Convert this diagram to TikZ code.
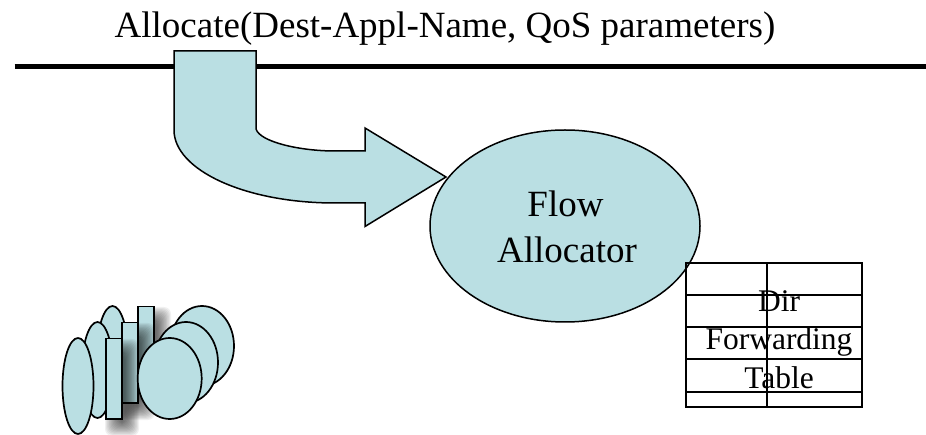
\documentclass[tikz,border=0pt]{standalone}
\usepackage{fontspec}
\setmainfont{Liberation Serif}
\definecolor{pale}{HTML}{BADFE3}
\newcommand{\softshadow}[4]{%
  \foreach \k in {0,...,13}{
    \fill[black,fill opacity=0.06,rounded corners=7pt]
      ({#1-1+\k*1.1},{#2+1+\k*1.1}) rectangle ({#3+17-\k*1.1},{#4+17-\k*1.1});
  }}
\tikzset{
  x=1pt,y=-1pt,
  shape line/.style={draw=black,line width=1.5pt,fill=pale},
  small/.style={draw=black,line width=1.7pt,fill=pale},
  grid line/.style={draw=black,line width=1.3pt},
  label/.style={anchor=base,inner sep=0pt,font=\fontsize{37}{42}\selectfont,text=black},
  cell label/.style={label,font=\fontsize{31.5}{36}\selectfont}
}
\begin{document}
\begin{tikzpicture}
\useasboundingbox (0,0) rectangle (926,435);
\node[label] (title) at (445,37.5) {Allocate(Dest-Appl-Name, QoS parameters)};
\draw[line width=5.3pt,black] (14.5,66.7) -- (926,66.7);
\draw[shape line] (174,51) -- (256,51) -- (256,129)
  .. controls (260,142) and (300,151) .. (335,151) -- (365,151) -- (365,128) -- (446,177) -- (365,226.5) -- (365,203) -- (335,203)
  .. controls (245,203) and (174,170) .. (174,130) -- cycle;
\draw[shape line] (565,226) ellipse [x radius=135,y radius=96];
\draw[grid line] (686,263) rectangle (862,407);
\draw[grid line] (767,263) -- (767,407);
\foreach \yy in {295,327,359,392}{\draw[grid line] (686,\yy) -- (862,\yy);}
\node[label] (flow) at (565.5,217) {Flow};
\node[label] (alloc) at (567,262.5) {Allocator};
\node[cell label] (dir) at (779,312) {Dir};
\node[cell label] (fwd) at (779,350) {Forwarding};
\node[cell label] (tbl) at (779,388.5) {Table};
% small stacked cluster
\draw[small] (112.5,354) ellipse [x radius=15.5,y radius=48];
\draw[small] (97.5,370) ellipse [x radius=15.5,y radius=48];
\draw[small] (78,386) ellipse [x radius=15.5,y radius=48];
\softshadow{138}{306}{154}{386}
\draw[small] (138,306.5) rectangle (154,386);
\softshadow{122}{322}{138}{403}
\draw[small] (122,322.5) rectangle (138,403);
\softshadow{106}{338}{122}{419}
\draw[small] (106,338.5) rectangle (122,419);
\draw[small] (202,346) ellipse [x radius=32,y radius=40];
\draw[small] (186,362.5) ellipse [x radius=32,y radius=40.5];
\draw[small] (169.7,378.5) ellipse [x radius=32,y radius=40.5];
\end{tikzpicture}
\end{document}
